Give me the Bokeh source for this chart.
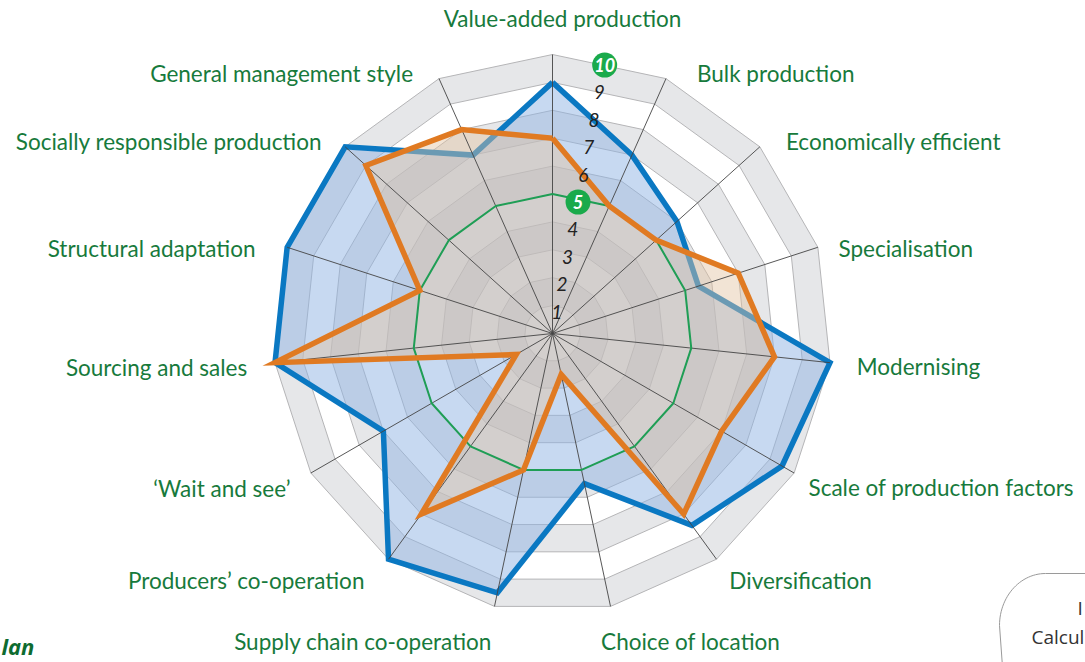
import numpy as np
from bokeh.plotting import figure
from bokeh.models import Range1d
from bokeh.core.properties import value
from bokeh.embed import file_html
from bokeh.resources import INLINE

# ---------------- data ----------------
categories = [
    "Value-added production", "Bulk production", "Economically efficient",
    "Specialisation", "Modernising", "Scale of production factors",
    "Diversification", "Choice of location", "Supply chain co-operation",
    "Producers\u2019 co-operation", "\u2018Wait and see\u2019", "Sourcing and sales",
    "Structural adaptation", "Socially responsible production",
    "General management style",
]
blue_values = [9, 7, 6, 5.5, 10, 9.5, 8.5, 5.5, 9.5, 10, 7, 10, 10, 10, 7]
orange_values = [7, 5, 5, 7, 8, 7, 8, 1.5, 5, 8, 1.5, 10, 5, 9, 8]
scale_ticks = [1, 2, 3, 4, 5, 6, 7, 8, 9, 10]
highlight_ticks = [5, 10]
reference_ring = 5
max_value = 10

# ---------------- geometry ----------------
U = 27.9                 # pixels per unit
CX, CY = 552, 333        # centre in page pixels
W, H = 1085, 662
n = len(categories)
theta = np.deg2rad(np.arange(n) * 360.0 / n)


def polar(vals, th=theta):
    vals = np.asarray(vals, dtype=float)
    return vals * np.sin(th), vals * np.cos(th)


p = figure(width=W, height=H, output_backend="svg", toolbar_location=None,
           x_axis_type=None, y_axis_type=None, min_border=0,
           x_range=Range1d((0 - CX) / U, (W - CX) / U),
           y_range=Range1d((CY - H) / U, CY / U))
p.grid.visible = False
p.outline_line_color = None
p.background_fill_color = "white"
p.border_fill_color = "white"

# bands (alternating grey / white)
for k in range(max_value, 0, -1):
    bx, by = polar([k] * n)
    p.patch(list(bx), list(by), fill_color="#e6e7e9" if k % 2 == 0 else "white",
            line_color="#b5b5b7", line_width=1)

# blue series
bx, by = polar(blue_values)
p.patch(list(bx), list(by), fill_color="#8fb4e3", fill_alpha=0.5, line_color=None)
p.line(list(bx) + [bx[0]], list(by) + [by[0]], line_color="#0a78c2",
       line_width=5.5, line_join="miter")

# orange fill
ox, oy = polar(orange_values)
p.patch(list(ox), list(oy), fill_color="#e3c3a2", fill_alpha=0.45, line_color=None)

# spokes
sx, sy = polar([max_value] * n)
p.multi_line([[0, x] for x in sx], [[0, y] for y in sy], line_color="#444444",
             line_width=0.9)

# reference ring
gx, gy = polar([reference_ring] * n)
p.line(list(gx) + [gx[0]], list(gy) + [gy[0]], line_color="#1f9e55", line_width=2)

# orange line
p.line(list(ox) + [ox[0]], list(oy) + [oy[0]], line_color="#e07a22",
       line_width=5.5, line_join="miter")

# scale numbers
tick_angle = np.deg2rad(11.0)
plain = [t for t in scale_ticks if t not in highlight_ticks]
tx = [(t - 0.2) * np.sin(tick_angle) for t in plain]
ty = [(t - 0.2) * np.cos(tick_angle) for t in plain]
p.text(tx, ty, text=[str(t) for t in plain], text_align="center",
       text_baseline="middle", text_font=value("Lato"), text_font_style="italic",
       text_font_size="19px", text_color="#222222")
hx = [(t - 0.2) * np.sin(tick_angle) for t in highlight_ticks]
hy = [(t - 0.2) * np.cos(tick_angle) for t in highlight_ticks]
p.scatter(hx, hy, size=25, fill_color="#1aaa4b", line_color=None)
p.text(hx, hy, text=[str(t) for t in highlight_ticks], text_align="center",
       text_baseline="middle", text_font=value("Lato"),
       text_font_style="bold italic", text_font_size="18px", text_color="white")

# category labels
label_r = 306 / U
nudges = [(10, -9), (20, 20), (6, 13), (-5, 10), (0, 1), (-9, 1), (-3, -1),
          (-15, 9), (3, 9), (-8, -1), (3, 2), (-1, 2), (-6, 10), (-3, 13), (-15, 20)]
lx, ly, la = [], [], []
for i in range(n):
    s, c = np.sin(theta[i]), np.cos(theta[i])
    lx.append(label_r * s + nudges[i][0] / U)
    ly.append(label_r * c - nudges[i][1] / U)
    la.append("center" if abs(s) < 0.1 else ("left" if s > 0 else "right"))
p.text(lx, ly, text=categories, text_align=la, text_baseline="middle",
       text_font=value("Lato"), text_font_size="22.5px", text_color="#177a3c")

# cropped neighbour elements
p.text([(1 - CX) / U], [(CY - 645) / U], text=["lan"], text_align="left",
       text_baseline="middle", text_font=value("Open Sans"),
       text_font_style="bold italic", text_font_size="22px", text_color="#0e6b30")
ang = np.linspace(np.pi, np.pi / 2, 30)
ex = [(1045 + 46 * np.cos(a) - CX) / U for a in ang]
ey = [(CY - (625 - 52 * np.sin(a))) / U for a in ang]
ex = [(1003 - CX) / U] + ex + [(1100 - CX) / U]
ey = [(CY - 680) / U] + ey + [(CY - 573) / U]
p.line(ex, ey, line_color="#9a9a9a", line_width=1)
p.text([(1031 - CX) / U], [(CY - 636) / U], text=["Calcul"], text_align="left",
       text_baseline="middle", text_font=value("Open Sans"), text_font_size="19px",
       text_color="#333333")
p.text([(1077 - CX) / U], [(CY - 607) / U], text=["I"], text_align="left",
       text_baseline="middle", text_font=value("Open Sans"), text_font_size="19px",
       text_color="#333333")

open("out.html", "w").write(file_html(p, INLINE))
